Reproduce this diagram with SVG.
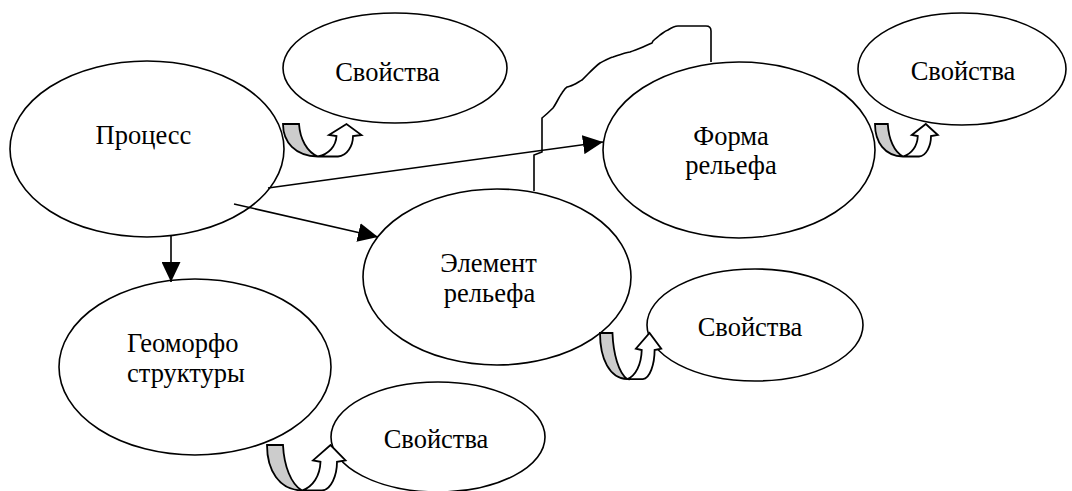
<svg xmlns="http://www.w3.org/2000/svg" xmlns:xlink="http://www.w3.org/1999/xlink" width="1072" height="491" viewBox="0 0 1072 491">
<style>
.node{fill:#fff;stroke:#000;stroke-width:1.6}
.lbl{font-family:"Liberation Serif","Times New Roman",serif;font-size:26.5px;fill:#000;text-anchor:middle}
.lbl-l{font-family:"Liberation Serif","Times New Roman",serif;font-size:26.5px;fill:#000;text-anchor:start}
.edge{fill:none;stroke:#000;stroke-width:1.6}
.ua{stroke:#000;stroke-width:1.8;stroke-linejoin:miter;vector-effect:non-scaling-stroke}
.ua-back{fill:#cccccc}
.ua-front{fill:#fff}
</style>
<defs>
<marker id="ah" markerUnits="userSpaceOnUse" markerWidth="21" markerHeight="19" refX="20" refY="9.5" orient="auto">
<path d="M0,0 L20,9.5 L0,19 Z" fill="#000"/>
</marker>
<g id="uarrow">
<path class="ua ua-back" d="M0,0 L16,0 C17,15 24,28 35,32.5 C12,32 0,18 0,0 Z"/>
<path class="ua ua-front" d="M35,32.5 L55,32.5 C64,32 70,22 70,12 L78.5,11 L63.5,0 L46,11 L53.5,12 C53,22 46,30 35,32.5 Z"/>
</g>
</defs>
<rect width="1072" height="491" fill="#fff"/>

<g id="node-svoistva-1">
<ellipse class="node" cx="395" cy="68" rx="112" ry="55"/>
<text class="lbl" x="387.5" y="81">Свойства</text>
</g>
<g id="node-process">
<ellipse class="node" cx="147" cy="149" rx="137" ry="88"/>
<text class="lbl" x="143.5" y="144">Процесс</text>
</g>
<g id="node-forma">
<ellipse class="node" cx="739" cy="150" rx="136" ry="88"/>
<text class="lbl" x="731" y="145">Форма</text>
<text class="lbl" x="731" y="174">рельефа</text>
</g>
<g id="node-svoistva-2">
<ellipse class="node" cx="962" cy="69" rx="104" ry="56"/>
<text class="lbl" x="963" y="80">Свойства</text>
</g>
<g id="node-element">
<ellipse class="node" cx="497" cy="277" rx="134" ry="88"/>
<text class="lbl" x="488.5" y="272">Элемент</text>
<text class="lbl" x="489.5" y="302">рельефа</text>
</g>
<g id="node-svoistva-3">
<ellipse class="node" cx="755" cy="325" rx="108" ry="56"/>
<text class="lbl" x="750" y="336">Свойства</text>
</g>
<g id="node-geomorfo">
<ellipse class="node" cx="195" cy="367" rx="136" ry="88"/>
<text class="lbl-l" x="127" y="352">Геоморфо</text>
<text class="lbl-l" x="127" y="382">структуры</text>
</g>
<g id="node-svoistva-4">
<ellipse class="node" cx="438" cy="437" rx="107" ry="55"/>
<text class="lbl" x="436" y="448">Свойства</text>
</g>

<g id="connectors">
<line class="edge" x1="268" y1="188" x2="603" y2="142" marker-end="url(#ah)"/>
<line class="edge" x1="234" y1="204" x2="378" y2="237" marker-end="url(#ah)"/>
<line class="edge" x1="171" y1="236" x2="171" y2="282" marker-end="url(#ah)"/>
<path class="edge" d="M534,191 L534,155 L542,152 L542,118 C547,114 551,110 553,108 C556,104 559,97 562,93 C564,90 565,88 567,87 C570,86 571,86 573,85 C577,83 580,81 582,80 C584,78 586,76 588,74 C593,69 596,66 600,63 C604,61 609,58 613,57 C619,55 624,53 630,52 C635,50 639,49 643,47 C647,45 650,44 652,43 L653,41 C656,38 658,37 660,35 C663,33 665,31 668,30 C671,28 674,26 678,26 L706,26 C709,26 711,28 711,31 L711,62"/>
<use xlink:href="#uarrow" href="#uarrow" transform="translate(283,124)"/>
<use xlink:href="#uarrow" href="#uarrow" transform="translate(875,124) scale(0.8,1)"/>
<use xlink:href="#uarrow" href="#uarrow" transform="translate(600,333) scale(0.78,1.42)"/>
<use xlink:href="#uarrow" href="#uarrow" transform="translate(267,445) scale(1,1.4)"/>
</g>
</svg>
